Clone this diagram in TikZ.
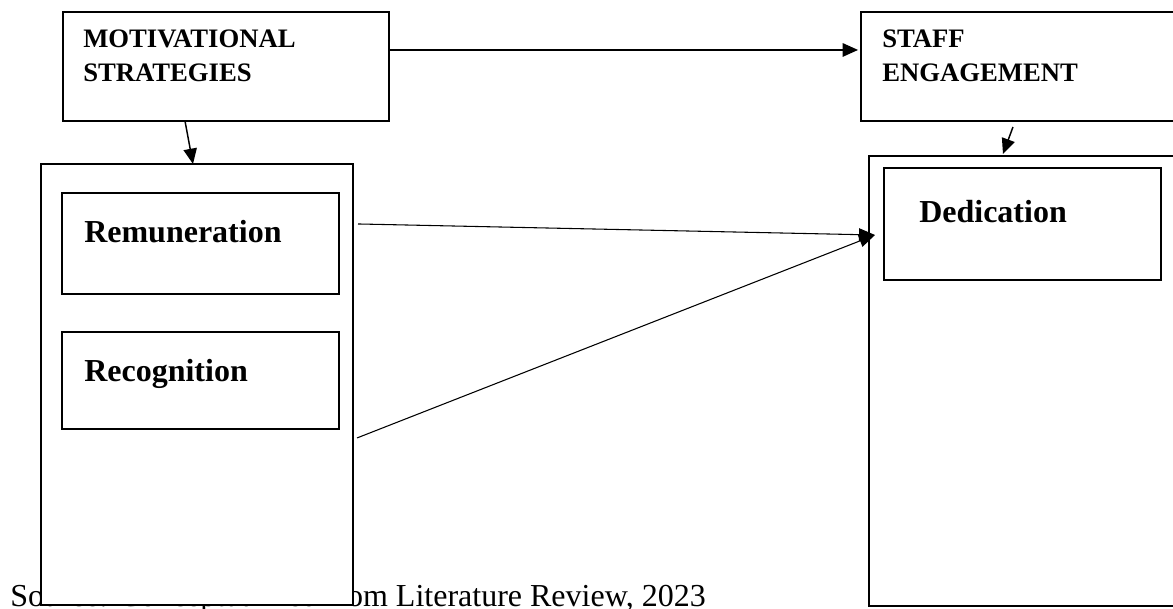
\documentclass[tikz,border=0pt]{standalone}
\usepackage{fontspec}
\setmainfont{Liberation Serif}
\usetikzlibrary{arrows.meta}

\begin{document}
\begin{tikzpicture}[x=0.75pt, y=-0.75pt]
    \tikzstyle{box}=[
        draw = black,
        line width = 1.4pt,
        fill = white,
        inner sep = 0pt,
        outer sep = 0pt,
        rectangle
    ]
    \tikzstyle{head text}=[
        inner sep = 0pt,
        anchor = north west,
        align = left,
        font = \fontsize{20}{25.5}\selectfont\bfseries
    ]
    \tikzstyle{item text}=[
        inner sep = 0pt,
        anchor = base west,
        font = \fontsize{24}{28}\selectfont\bfseries
    ]
    \tikzstyle{link}=[
        line width = 1.3pt,
        -{Triangle[length=11.5pt, width=10pt]}
    ]
    \tikzstyle{thin link}=[
        line width = 0.8pt,
        -{Triangle[length=12pt, width=9.5pt]}
    ]

    \useasboundingbox (0, 0) rectangle (1173, 609);

    % source line sits under the left column
    \node[inner sep=0pt, anchor=base west, font=\fontsize{24}{28}\selectfont] (src) at (10, 606) {Source: Conceptualized from Literature Review, 2023};

	\node[box, minimum width=244.5pt, minimum height=81.75pt]  (ms)   at (226, 66.5)    {};
	\node[box, minimum width=246.75pt, minimum height=81.75pt] (se)   at (1025.5, 66.5) {};
	\node[box, minimum width=234pt, minimum height=330.75pt]   (lbox) at (197, 384.5)   {};
	\node[box, minimum width=207.75pt, minimum height=75.75pt] (rem)  at (200.5, 243.5) {};
	\node[box, minimum width=207.75pt, minimum height=72.75pt] (rec)  at (200.5, 380.5) {};
	\node[box, minimum width=240.75pt, minimum height=337.5pt] (rbox) at (1029.5, 381)  {};
	\node[box, minimum width=207.75pt, minimum height=84pt]    (ded)  at (1022.5, 224)  {};

	\node[head text] (mstext) at (83, 30)  {MOTIVATIONAL\\STRATEGIES};
	\node[head text] (setext) at (882, 30) {STAFF\\ENGAGEMENT};
	\node[item text] (remtext) at (84, 243)  {Remuneration};
	\node[item text] (rectext) at (84, 381)  {Recognition};
	\node[item text] (dedtext) at (919, 223) {Dedication};

	\path[link] ([yshift=12.4pt]ms.east) edge [shorten >=2.2pt] ([yshift=12.4pt]se.west);
	\path[link, line width=1.1pt] ([xshift=-30.75pt]ms.south) edge ([xshift=-3pt]lbox.north);
	\path[link, line width=1.1pt] ([xshift=-9.4pt, yshift=-4.5pt]se.south) edge ([xshift=-19.9pt, yshift=1.5pt]rbox.north);
	\path[thin link] ([xshift=3.75pt, yshift=120.4pt]lbox.east) edge ([xshift=4.5pt, yshift=109.5pt]rbox.west);
	\path[thin link] ([xshift=3pt, yshift=-40.1pt]lbox.east) edge ([xshift=4.5pt, yshift=109.5pt]rbox.west);

\end{tikzpicture}
\end{document}
